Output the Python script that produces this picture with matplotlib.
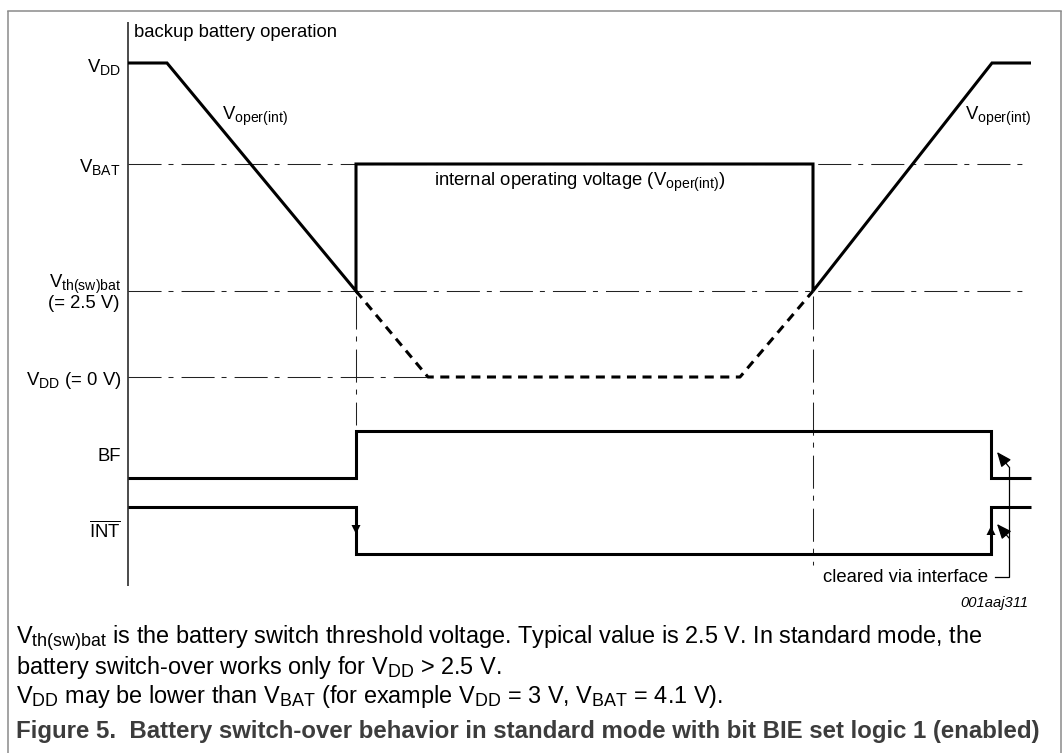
import matplotlib
matplotlib.use('Agg')
import matplotlib.pyplot as plt

try:
    import matplotlib._mathtext as _mt
    _mt.SHRINK_FACTOR = 0.76
except Exception:
    pass

plt.rcParams['font.family'] = ['Liberation Sans', 'DejaVu Sans']
plt.rcParams['mathtext.fontset'] = 'custom'
plt.rcParams['mathtext.rm'] = 'Liberation Sans'
plt.rcParams['mathtext.it'] = 'Liberation Sans:italic'
plt.rcParams['mathtext.bf'] = 'Liberation Sans:bold'
plt.rcParams['lines.scale_dashes'] = False

W, H = 1064, 753

# ---- diagram data (pixel-space timing diagram) ----
axis_x = 128
axis_top, axis_bottom = 22, 586

# voltage levels
level_labels = [r'$\mathrm{V_{DD}}$', r'$\mathrm{V_{BAT}}$', r'$\mathrm{V_{th(sw)bat}}$', r'$\mathrm{V_{DD}}$ (= 0 V)']
level_y = [63, 164, 291, 377]
VDD, VBAT, VTH, VDD0 = level_y

# event times
t_fall = 167
t_sw1 = 356
t_low0 = 428
t_low1 = 740
t_sw2 = 813
t_top = 992
t_end = 1031

# internal operating voltage trace (solid)
oper_t = [axis_x, t_fall, t_sw1, t_sw1, t_sw2, t_sw2, t_top, t_end]
oper_v = [VDD, VDD, VTH, VBAT, VBAT, VTH, VDD, VDD]

# supply voltage while on battery (dashed)
vdd_t = [t_sw1, t_low0, t_low1, t_sw2]
vdd_v = [VTH, VDD0, VDD0, VTH]

# digital signals
BF_HIGH, BF_LOW = 431, 478
INT_HIGH, INT_LOW = 507, 554
t_clear = 991
bf_t = [axis_x, t_sw1, t_sw1, t_clear, t_clear, t_end]
bf_v = [BF_LOW, BF_LOW, BF_HIGH, BF_HIGH, BF_LOW, BF_LOW]
int_t = [axis_x, t_sw1, t_sw1, t_clear, t_clear, t_end]
int_v = [INT_HIGH, INT_HIGH, INT_LOW, INT_LOW, INT_HIGH, INT_HIGH]

# reference line extents
href_y = [VBAT, VTH, VDD0]
href_end = [1023, 1027, t_low0]
vref_x = [t_sw1, t_sw2]
vref_end = [425, 565]

fig = plt.figure(figsize=(W / 100, H / 100), dpi=100)
ax = fig.add_axes([0, 0, 1, 1])
ax.set_xlim(0, W)
ax.set_ylim(H, 0)
ax.axis('off')
renderer = fig.canvas.get_renderer()

# frame
fc = '#8a8a8a'
ax.plot([8, 8], [11, H], color=fc, lw=1.1, solid_capstyle='butt')
ax.plot([1061, 1061], [11, H], color=fc, lw=1.1, solid_capstyle='butt')
ax.plot([8, 1061], [11, 11], color=fc, lw=1.1, solid_capstyle='projecting')

# axis line
ax.plot([axis_x, axis_x], [axis_top, axis_bottom], color='#1a1a1a', lw=1.1, solid_capstyle='butt')

# dash-dot reference lines
dd = (0, (23.8, 5.0, 3.6, 5.8))
for y, xe in zip(href_y, href_end):
    ax.plot([axis_x, xe], [y, y], color='#222222', lw=0.75, linestyle=dd)
for x, ye in zip(vref_x, vref_end):
    ax.plot([x, x], [VTH + 5, ye], color='#222222', lw=0.75, linestyle=dd)

thick = 2.2
ax.plot(oper_t, oper_v, color='black', lw=thick, solid_joinstyle='miter', solid_capstyle='butt')
ax.plot(vdd_t, vdd_v, color='black', lw=thick, linestyle=(0, (6.5, 4.7)), dash_capstyle='butt')
ax.plot(bf_t, bf_v, color='black', lw=thick, solid_joinstyle='miter', solid_capstyle='butt')
ax.plot(int_t, int_v, color='black', lw=thick, solid_joinstyle='miter', solid_capstyle='butt')

# edge arrows on INT
mid = (INT_HIGH + INT_LOW) / 2
ah, aw = 9, 4.5
ax.fill([t_sw1 - aw, t_sw1 + aw, t_sw1], [mid - ah / 2 - 1, mid - ah / 2 - 1, mid + ah / 2 - 1], color='black', lw=0)
ax.fill([t_clear - aw, t_clear + aw, t_clear], [mid + ah / 2, mid + ah / 2, mid - ah / 2], color='black', lw=0)

# "cleared via interface" connector
cx = 1009
ax.plot([995, cx, cx], [577, 577, 467], color='black', lw=0.9, solid_joinstyle='miter')
ap = dict(arrowstyle='-|>,head_length=0.6,head_width=0.25', color='black', lw=0.9, shrinkA=0, shrinkB=0, mutation_scale=15)
ax.annotate('', xy=(997, 452), xytext=(cx, 467), arrowprops=ap)
ax.annotate('', xy=(997, 524), xytext=(cx, 538), arrowprops=ap)


def fit(x, y, s, target, fs0=12, scale=1.0, **kw):
    t = ax.text(x, y, s, fontsize=fs0, **kw)
    w = t.get_window_extent(renderer).width
    fs = fs0 * target / w * scale
    t.set_fontsize(fs)
    return t, fs


_, fs_d = fit(134, 37, 'backup battery operation', 204, va='baseline', ha='left')

lx = 121
ax.text(lx, VDD + 9, level_labels[0], fontsize=fs_d, ha='right', va='baseline')
ax.text(lx, VBAT + 8, level_labels[1], fontsize=fs_d, ha='right', va='baseline')
ax.text(lx, VTH - 4, level_labels[2], fontsize=fs_d, ha='right', va='baseline')
ax.text(lx - 1, VTH + 17, '(= 2.5 V)', fontsize=fs_d, ha='right', va='baseline')
ax.text(lx, VDD0 + 8, level_labels[3], fontsize=fs_d, ha='right', va='baseline')
ax.text(lx, 461, 'BF', fontsize=fs_d, ha='right', va='baseline')
ax.text(lx, 537, r'$\overline{\mathrm{INT}}$', fontsize=fs_d, ha='right', va='baseline')

ax.text(222, 119, r'$\mathrm{V_{oper(int)}}$', fontsize=fs_d, ha='left', va='baseline')
ax.text(965, 119, r'$\mathrm{V_{oper(int)}}$', fontsize=fs_d, ha='left', va='baseline')
ax.text(434, 185, r'internal operating voltage ($\mathrm{V_{oper(int)}}$)', fontsize=fs_d, ha='left', va='baseline')
ax.text(988, 582, 'cleared via interface', fontsize=fs_d, ha='right', va='baseline')
ax.text(1028, 607, '001aaj311', fontsize=fs_d * 0.8, ha='right', va='baseline', style='italic')

# caption
_, fs_c = fit(16, 644, r'$\mathrm{V_{th(sw)bat}}$ is the battery switch threshold voltage. Typical value is 2.5 V. In standard mode, the',
              1036, scale=0.93, va='baseline', ha='left')
ax.text(16, 674, r'battery switch-over works only for $\mathrm{V_{DD}}$ > 2.5 V.', fontsize=fs_c, va='baseline', ha='left')
ax.text(16, 703, r'$\mathrm{V_{DD}}$ may be lower than $\mathrm{V_{BAT}}$ (for example $\mathrm{V_{DD}}$ = 3 V, $\mathrm{V_{BAT}}$ = 4.1 V).',
        fontsize=fs_c, va='baseline', ha='left')
fit(16, 738, 'Figure 5.  Battery switch-over behavior in standard mode with bit BIE set logic 1 (enabled)', 1041,
    scale=0.98, va='baseline', ha='left', fontweight='bold', color='#3c3c3c')

fig.savefig('out.png', dpi=100)
